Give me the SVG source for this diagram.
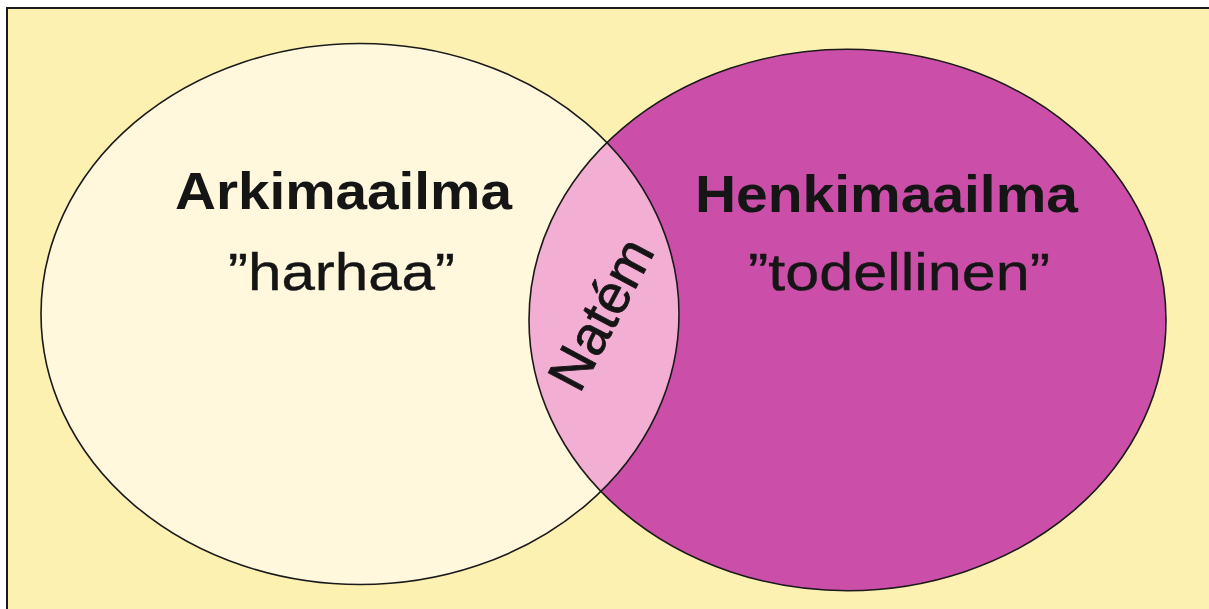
<svg xmlns="http://www.w3.org/2000/svg" width="1209" height="609" viewBox="0 0 1209 609">
<style>
.outline{fill:none;stroke:#1a1a1a;stroke-width:1.6}
.t{font-family:"Liberation Sans",Arial,sans-serif;fill:#151515}
.b{font-weight:bold;font-size:52px}
.r{font-size:52px;stroke:#151515;stroke-width:0.4}
</style>
<defs>
<clipPath id="clipLeft"><ellipse cx="360" cy="314" rx="319" ry="270.5"/></clipPath>
</defs>
<rect x="0" y="0" width="1209" height="609" fill="#ffffff"/>
<rect x="7" y="8" width="1220" height="620" fill="#fdf1b2" stroke="#1a1a1a" stroke-width="2"/>
<g id="arkimaailma">
<ellipse cx="360" cy="314" rx="319" ry="270.5" fill="#fff8dd"/>
</g>
<g id="henkimaailma">
<ellipse cx="847.5" cy="320" rx="318.5" ry="270.7" fill="#cb4fa9"/>
</g>
<g id="natem">
<ellipse cx="847.5" cy="320" rx="318.5" ry="270.7" fill="#f3afd3" clip-path="url(#clipLeft)"/>
</g>
<g id="outlines">
<ellipse class="outline" cx="360" cy="314" rx="319" ry="270.5"/>
<ellipse class="outline" cx="847.5" cy="320" rx="318.5" ry="270.7"/>
</g>
<g id="labels">
<text class="t b" x="175" y="209" textLength="337" lengthAdjust="spacingAndGlyphs">Arkimaailma</text>
<text class="t r" x="228" y="290" textLength="227" lengthAdjust="spacingAndGlyphs">”harhaa”</text>
<text class="t b" x="695" y="212" textLength="383" lengthAdjust="spacingAndGlyphs">Henkimaailma</text>
<text class="t r" x="748" y="290" textLength="302" lengthAdjust="spacingAndGlyphs">”todellinen”</text>
<text class="t r" font-size="55" style="font-size:55px;stroke-width:0.8" transform="translate(618,322) rotate(-62)" x="-82" y="0" textLength="162" lengthAdjust="spacingAndGlyphs">Natém</text>
</g>
</svg>
